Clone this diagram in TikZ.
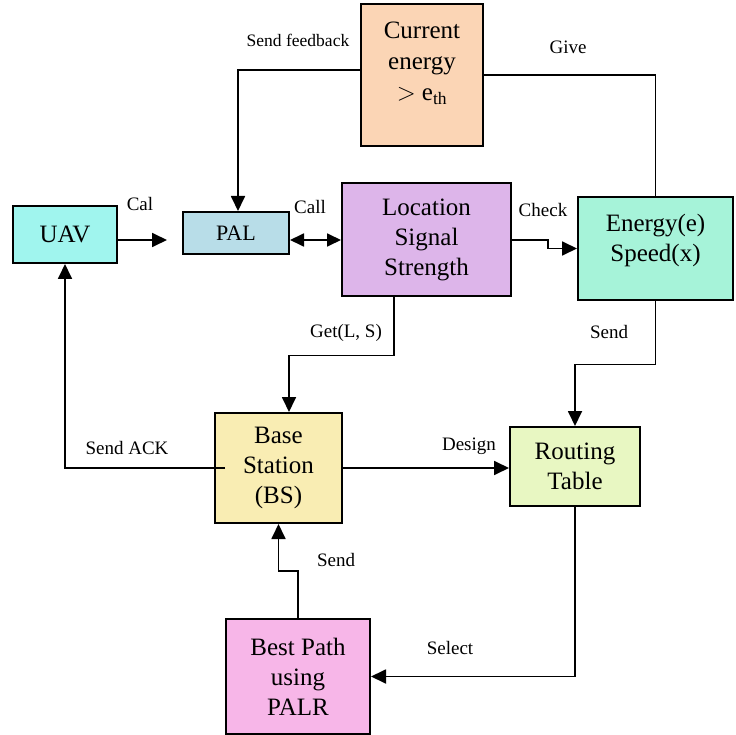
\documentclass[tikz,border=0pt]{standalone}
\usepackage{fontspec}
\setmainfont{Liberation Serif}
\usetikzlibrary{arrows.meta,calc}
\begin{document}
\begin{tikzpicture}[x=1pt,y=-1pt,
  box/.style={draw=black, line width=2pt, inner sep=0pt, align=center,
              font=\fontsize{25}{30}\selectfont},
  lbl/.style={font=\fontsize{19}{22}\selectfont, inner sep=0pt},
  conn/.style={line width=1.8pt},
  arr/.style={conn, -{Triangle[length=15pt,width=14pt]}},
  darr/.style={conn, {Triangle[length=14pt,width=13pt]}-{Triangle[length=14pt,width=13pt]}}]
\useasboundingbox (0,0) rectangle (736,735);

% boxes
\node[box, fill={rgb,255:red,251;green,213;blue,181}, minimum width=122pt, minimum height=142pt] (ce) at (422,75) {};
\node[font=\fontsize{25}{31}\selectfont, align=center] at (422,63) {Current\\energy\\$>$ e\textsubscript{th}};
\node[box, fill={rgb,255:red,160;green,245;blue,238}, minimum width=104pt, minimum height=57pt] (uav) at (65,234.5) {UAV};
\node[box, fill={rgb,255:red,184;green,221;blue,232}, minimum width=106pt, minimum height=42pt, font=\fontsize{22}{26}\selectfont] (pal) at (236,233) {PAL};
\node[box, fill={rgb,255:red,221;green,181;blue,234}, minimum width=169pt, minimum height=113pt] (loc) at (426.5,240) {Location\\Signal\\Strength};
\node[box, fill={rgb,255:red,166;green,243;blue,217}, minimum width=155pt, minimum height=103pt] (en) at (655.5,248.5) {};
\node[font=\fontsize{25}{30}\selectfont, align=center] at (655.5,240) {Energy(e)\\Speed(x)};
\node[box, fill={rgb,255:red,249;green,237;blue,179}, minimum width=127pt, minimum height=110pt] (bs) at (278.5,468) {Base\\Station\\(BS)};
\node[box, fill={rgb,255:red,232;green,247;blue,194}, minimum width=130pt, minimum height=79pt] (rt) at (575,466.5) {Routing\\Table};
\node[box, fill={rgb,255:red,247;green,182;blue,232}, minimum width=144pt, minimum height=115pt] (bp) at (298,676.5) {Best Path\\using\\PALR};

% free end of the Cal arrow
\coordinate (calend) at (167,240);

% connectors
\draw[arr] ([yshift=5pt]ce.west) -| ([xshift=2pt]pal.north);
\draw[conn] (ce.east) -| (en.north);
\draw[arr] (uav.east |- calend) -- (calend);
\draw[darr] (pal.east |- loc.west) -- (loc.west);
\draw[arr] (loc.east) -- ++(36,0) |- (en.west);
\draw[arr] ([xshift=-32.5pt]loc.south) -- ++(0,58) -| ([xshift=10.5pt]bs.north);
\draw[arr] (en.south) -- ++(0,63.5) -| (rt.north);
\draw[arr] ([xshift=11pt]bs.west) -| (uav.south);
\draw[arr] (bs.east) -- (rt.west |- bs.east);
\draw[arr] (bp.north) -- ++(0,-47) -| (bs.south);
\draw[arr] (rt.south) |- (bp.east);

% connector labels
\node[lbl, font=\fontsize{17.5}{20}\selectfont] (lfb) at (298,40) {Send feedback};
\node[lbl] (lgive) at (568,47) {Give};
\node[lbl] (lcal) at (140,204) {Cal};
\node[lbl] (lcall) at (310,207) {Call};
\node[lbl] (lcheck) at (543,210) {Check};
\node[lbl] (lget) at (346,333) {Get(L, S)};
\node[lbl] (lsend1) at (609,332) {Send};
\node[lbl] (lack) at (127,448) {Send ACK};
\node[lbl] (ldesign) at (469,446) {Design};
\node[lbl] (lsend2) at (336,560) {Send};
\node[lbl] (lselect) at (450,648) {Select};
\end{tikzpicture}
\end{document}
